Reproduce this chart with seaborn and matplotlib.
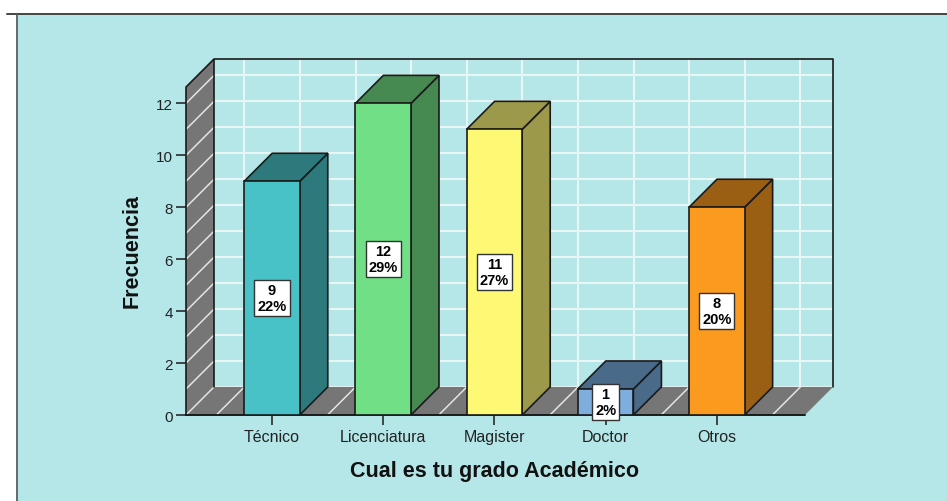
import pandas as pd
import numpy as np
import matplotlib.pyplot as plt
import seaborn as sns
from matplotlib.patches import Polygon, Rectangle
from matplotlib.lines import Line2D

grados = ['Técnico', 'Licenciatura', 'Magister', 'Doctor', 'Otros']
frecuencia = [9, 12, 11, 1, 8]
porcentaje = [22, 29, 27, 2, 20]
colores = ['#48C2C6', '#70DF85', '#FDF975', '#7DAEDD', '#FA9A1E']
colores_lado = ['#2D797C', '#468A52', '#9C9A4A', '#4A6A89', '#9A5F12']
y_ticks = [0, 2, 4, 6, 8, 10, 12]

fondo = '#B6E7E8'
gris = '#767676'
negro = '#1A1A1A'
W, H = 947, 502

sns.set_theme(style='white')
plt.rcParams['font.family'] = ['Liberation Sans', 'DejaVu Sans']

fig = plt.figure(figsize=(W / 100, H / 100), dpi=100, facecolor=fondo)
ax = fig.add_axes([186 / W, 1 - 416 / H, (833 - 186) / W, (416 - 60) / H])
ax.patch.set_visible(False)

df = pd.DataFrame({'grado': grados, 'frecuencia': frecuencia})
sns.barplot(data=df, x='grado', y='frecuencia', hue='grado', palette=colores, saturation=1,
            width=0.5, legend=False, edgecolor=negro, linewidth=1.2, zorder=5, ax=ax)
bars = sorted(ax.patches, key=lambda b: b.get_x())

# profundidad del efecto 3D, en unidades de los ejes
dx, dy = 0.252, 1.08
x0, x1 = -0.773, 5.045
y1 = 13.71
ax.set_xlim(x0, x1)
ax.set_ylim(0, y1)

# pared izquierda y piso
ax.add_patch(Polygon([(x0, 0), (x0 + dx, dy), (x0 + dx, y1), (x0, y1 - dy)], fc=gris, ec='none', zorder=1))
ax.add_patch(Polygon([(x0, 0), (x1 - dx, 0), (x1, dy), (x0 + dx, dy)], fc=gris, ec='none', zorder=1))

# grilla blanca
for v in range(0, 13):
    ax.plot([x0 + dx, x1], [v + dy, v + dy], color='#EAF7F7', lw=1.4, zorder=0.5)
    ax.plot([x0, x0 + dx], [v, v + dy], color='#E4E4E4', lw=1.1, zorder=2)
for c in np.arange(-0.5, 5, 0.5):
    ax.plot([c + dx, c + dx], [dy, y1], color='#EAF7F7', lw=1.4, zorder=0.5)
    ax.plot([c, c + dx], [0, dy], color='#E4E4E4', lw=1.1, zorder=2)

# bordes
ax.plot([x0, x0, x0 + dx, x1, x1], [0, y1 - dy, y1, y1, dy], color=negro, lw=1.2, zorder=3, clip_on=False)
ax.plot([x0 + dx, x0 + dx], [dy, y1], color=negro, lw=1.2, zorder=3)
ax.plot([x0, x1 - dx], [0, 0], color=negro, lw=1.4, zorder=3, clip_on=False)

# caras de las barras
for i, bar in enumerate(bars):
    l = bar.get_x()
    r = l + bar.get_width()
    h = bar.get_height()
    lado = colores_lado[i]
    ax.add_patch(Polygon([(r, 0), (r + dx, dy), (r + dx, h + dy), (r, h)], fc=lado, ec=negro, lw=1.2, zorder=4))
    ax.add_patch(Polygon([(l, h), (l + dx, h + dy), (r + dx, h + dy), (r, h)], fc=lado, ec=negro, lw=1.2, zorder=4))
    ax.text(i, h / 2, f'{frecuencia[i]}\n{porcentaje[i]}%', ha='center', va='center', fontsize=10.5,
            fontweight='bold', color='black', linespacing=1.2, zorder=8, clip_on=False,
            bbox=dict(boxstyle='square,pad=0.2', fc='white', ec='#333333', lw=1.0))

ax.set_yticks(y_ticks)
ax.set_xticks(range(len(grados)))
ax.set_xticklabels(grados)
ax.set_xlabel('')
ax.set_ylabel('')
ax.tick_params(axis='both', length=7.2, width=1.1, color=negro, labelcolor='#222222', left=True, bottom=True)
ax.tick_params(axis='x', pad=3, labelsize=11.5)
ax.tick_params(axis='y', pad=2, labelsize=11)
for s in ax.spines.values():
    s.set_visible(False)

fig.text(494 / W, 1 - 471 / H, 'Cual es tu grado Académico', ha='center', va='center', fontsize=15.5,
         fontweight='bold', color='#111111')
fig.text(132 / W, 1 - 251 / H, 'Frecuencia', ha='center', va='center', rotation=90, fontsize=15.5,
         fontweight='bold', color='#111111')

# marco de la ventana
fig.add_artist(Rectangle((0, 1 - 15 / H), 1, 15 / H, transform=fig.transFigure, fc='white', ec='none'))
fig.add_artist(Rectangle((0, 0), 16 / W, 1, transform=fig.transFigure, fc='white', ec='none'))
fig.add_artist(Line2D([7 / W, 1], [1 - 15 / H, 1 - 15 / H], transform=fig.transFigure, color='#444444', lw=1.4))
fig.add_artist(Line2D([16.5 / W, 16.5 / W], [0, 1 - 15 / H], transform=fig.transFigure, color='#555555', lw=1.2))

fig.savefig('out.png', dpi=100, facecolor=fig.get_facecolor())
